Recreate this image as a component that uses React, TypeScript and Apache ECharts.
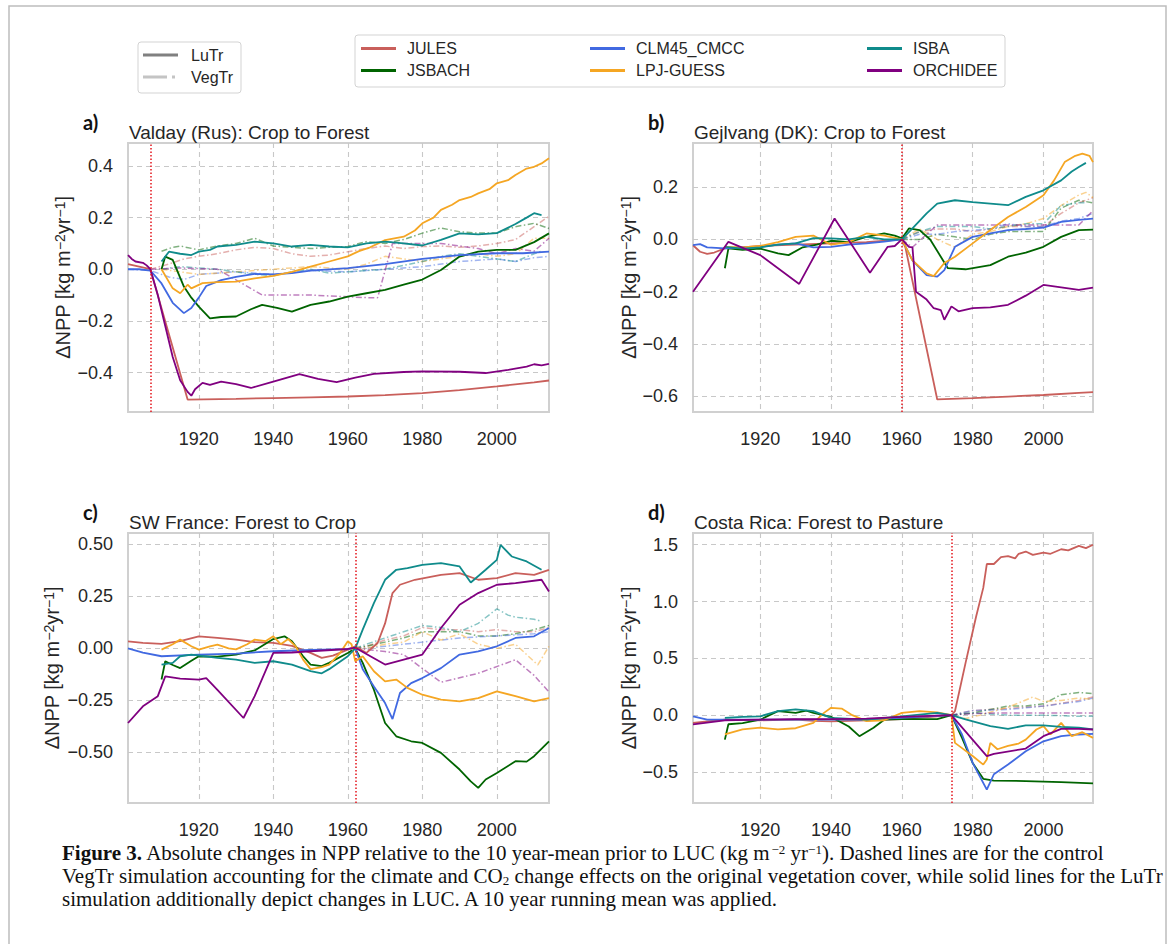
import React, { useEffect, useRef } from 'react';
import * as echarts from 'echarts';

// ---------- categories / styles ----------
const MODELS = ['JULES', 'JSBACH', 'CLM45_CMCC', 'LPJ-GUESS', 'ISBA', 'ORCHIDEE'];
const COLORS = ['#c95f5b', '#006400', '#4169e1', '#f5a623', '#0f8b8b', '#800080'];
const PANEL_LETTERS = ['a)', 'b)', 'c)', 'd)'];
const PANEL_TITLES = [
  'Valday (Rus): Crop to Forest',
  'Gejlvang (DK): Crop to Forest',
  'SW France: Forest to Crop',
  'Costa Rica: Forest to Pasture',
];
const LUC_YEARS = [1907, 1960, 1962, 1974];
const X_TICKS = [1920, 1940, 1960, 1980, 2000];
const Y_TICKS_A = [-0.4, -0.2, 0, 0.2, 0.4];
const Y_TICKS_B = [-0.6, -0.4, -0.2, 0, 0.2];
const Y_TICKS_C = [-0.5, -0.25, 0, 0.25, 0.5];
const Y_TICKS_D = [-0.5, 0, 0.5, 1.0, 1.5];
const Y_LIMITS_A = [-0.553, 0.489];
const Y_LIMITS_B = [-0.66, 0.369];
const Y_LIMITS_C = [-0.744, 0.555];
const Y_LIMITS_D = [-0.773, 1.603];

// ---------- panel a: Valday ----------
const aLuJULES = [[1901,0.02],[1904,0.01],[1907,0.0],[1917,-0.505],[1930,-0.502],[1940,-0.499],[1950,-0.496],[1960,-0.493],[1970,-0.488],[1980,-0.48],[1990,-0.468],[2000,-0.454],[2010,-0.438],[2014,-0.431]];
const aLuJSBACH = [[1910,0.0],[1911,0.049],[1913,0.036],[1916,-0.067],[1918,-0.11],[1920,-0.145],[1923,-0.19],[1926,-0.185],[1930,-0.183],[1934,-0.155],[1937,-0.138],[1941,-0.15],[1945,-0.164],[1950,-0.138],[1955,-0.125],[1960,-0.106],[1965,-0.093],[1970,-0.08],[1975,-0.06],[1980,-0.04],[1985,-0.003],[1990,0.049],[1995,0.068],[2000,0.075],[2005,0.075],[2010,0.105],[2014,0.139]];
const aLuCLM45 = [[1901,0.0],[1904,0.0],[1907,-0.005],[1910,-0.055],[1913,-0.13],[1916,-0.17],[1918,-0.15],[1920,-0.11],[1922,-0.065],[1926,-0.042],[1930,-0.03],[1935,-0.018],[1940,-0.02],[1945,-0.015],[1950,-0.005],[1960,0.004],[1970,0.02],[1980,0.04],[1990,0.055],[2000,0.062],[2007,0.062],[2014,0.068]];
const aLuLPJ = [[1910,0.0],[1913,-0.074],[1915,-0.093],[1917,-0.06],[1918,-0.074],[1921,-0.054],[1925,-0.05],[1930,-0.048],[1935,-0.035],[1940,-0.026],[1945,-0.01],[1950,0.01],[1955,0.03],[1960,0.05],[1963,0.07],[1966,0.085],[1970,0.113],[1975,0.126],[1978,0.15],[1980,0.178],[1983,0.2],[1985,0.23],[1988,0.25],[1990,0.268],[1993,0.28],[1995,0.294],[1998,0.31],[2000,0.333],[2003,0.345],[2005,0.365],[2008,0.39],[2010,0.397],[2012,0.41],[2014,0.43]];
const aLuISBA = [[1910,0.03],[1912,0.068],[1915,0.06],[1918,0.055],[1920,0.068],[1923,0.075],[1925,0.088],[1930,0.094],[1935,0.107],[1940,0.1],[1945,0.088],[1950,0.094],[1955,0.088],[1960,0.085],[1965,0.1],[1970,0.107],[1975,0.1],[1980,0.092],[1985,0.114],[1990,0.139],[1995,0.135],[2000,0.14],[2005,0.175],[2008,0.2],[2010,0.217],[2012,0.21]];
const aLuORCHIDEE = [[1901,0.055],[1902,0.04],[1903,0.03],[1905,0.025],[1906,0.015],[1907,0.0],[1909,-0.1],[1911,-0.22],[1913,-0.34],[1915,-0.43],[1917,-0.475],[1918,-0.49],[1919,-0.465],[1921,-0.44],[1923,-0.448],[1926,-0.435],[1930,-0.445],[1934,-0.46],[1940,-0.435],[1947,-0.406],[1952,-0.425],[1957,-0.437],[1962,-0.42],[1967,-0.405],[1975,-0.398],[1980,-0.396],[1990,-0.397],[1997,-0.402],[2003,-0.39],[2008,-0.377],[2010,-0.368],[2012,-0.372],[2014,-0.367]];
const aVegJULES = [[1907,0.0],[1912,0.02],[1916,0.04],[1920,0.05],[1925,0.06],[1930,0.075],[1935,0.085],[1940,0.08],[1945,0.06],[1950,0.05],[1955,0.055],[1960,0.068],[1965,0.08],[1970,0.09],[1975,0.08],[1980,0.088],[1985,0.09],[1990,0.085],[1995,0.09],[2000,0.1],[2005,0.115],[2010,0.165],[2014,0.205]];
const aVegJSBACH = [[1910,0.07],[1913,0.085],[1915,0.09],[1920,0.075],[1925,0.09],[1930,0.1],[1935,0.12],[1940,0.09],[1945,0.085],[1950,0.08],[1955,0.085],[1960,0.088],[1965,0.107],[1970,0.1],[1975,0.115],[1980,0.14],[1985,0.16],[1990,0.145],[1995,0.14],[2000,0.14],[2005,0.165],[2010,0.178],[2014,0.158]];
const aVegCLM45 = [[1901,0.0],[1907,-0.005],[1912,-0.03],[1916,-0.04],[1920,-0.02],[1930,-0.01],[1940,-0.02],[1950,-0.005],[1960,-0.01],[1970,0.0],[1980,0.01],[1990,0.03],[2000,0.04],[2005,0.03],[2010,0.045],[2014,0.05]];
const aVegLPJ = [[1910,0.0],[1915,-0.01],[1920,-0.02],[1930,-0.01],[1940,0.0],[1950,0.01],[1960,0.0],[1965,0.02],[1970,0.05],[1975,0.04],[1980,0.03],[1985,0.04],[1990,0.05],[1995,0.06],[2000,0.05],[2005,0.06],[2010,0.12],[2014,0.12]];
const aVegISBA = [[1910,0.0],[1915,0.01],[1920,0.005],[1925,0.0],[1930,-0.01],[1935,-0.02],[1940,-0.025],[1945,-0.01],[1950,0.0],[1955,-0.015],[1960,-0.01],[1970,0.0],[1980,0.03],[1985,0.05],[1990,0.06],[1995,0.05],[2000,0.04],[2005,0.03],[2010,0.06],[2012,0.07]];
const aVegORCHIDEE = [[1907,0.0],[1915,0.005],[1925,0.0],[1937,-0.1],[1950,-0.1],[1965,-0.11],[1968,-0.11],[1972,0.1],[1985,0.1],[1990,0.09],[1995,0.08],[2000,0.06],[2005,0.08],[2010,0.07],[2014,0.12]];

// ---------- panel b: Gejlvang ----------
const bLuJULES = [[1901,-0.022],[1903,-0.047],[1905,-0.055],[1907,-0.05],[1910,-0.034],[1915,-0.03],[1920,-0.025],[1930,-0.02],[1940,-0.015],[1950,-0.01],[1960,0.0],[1961,-0.03],[1970,-0.612],[1980,-0.607],[1990,-0.601],[2000,-0.595],[2010,-0.587],[2014,-0.584]];
const bLuJSBACH = [[1910,-0.11],[1911,-0.034],[1915,-0.04],[1920,-0.035],[1925,-0.053],[1928,-0.06],[1932,-0.03],[1936,-0.02],[1940,-0.005],[1945,-0.01],[1950,0.01],[1955,0.023],[1958,0.015],[1960,0.004],[1962,0.042],[1965,0.036],[1968,0.0],[1971,-0.066],[1973,-0.11],[1978,-0.114],[1985,-0.098],[1990,-0.066],[1995,-0.05],[2000,-0.028],[2005,0.01],[2010,0.036],[2014,0.038]];
const bLuCLM45 = [[1901,-0.022],[1903,-0.018],[1905,-0.03],[1910,-0.034],[1915,-0.03],[1920,-0.028],[1925,-0.02],[1930,-0.015],[1935,-0.03],[1940,-0.028],[1945,-0.02],[1950,-0.015],[1955,-0.008],[1960,0.0],[1963,-0.08],[1967,-0.136],[1970,-0.142],[1972,-0.117],[1975,-0.028],[1980,0.01],[1985,0.023],[1990,0.036],[1995,0.04],[2000,0.045],[2005,0.067],[2010,0.075],[2014,0.08]];
const bLuLPJ = [[1910,-0.028],[1915,-0.03],[1920,-0.025],[1925,-0.01],[1930,0.01],[1935,0.015],[1940,-0.02],[1945,-0.01],[1950,0.023],[1955,0.015],[1960,0.0],[1963,-0.08],[1967,-0.13],[1969,-0.14],[1972,-0.09],[1975,-0.066],[1980,-0.015],[1985,0.036],[1990,0.086],[1995,0.124],[2000,0.169],[2003,0.226],[2006,0.296],[2009,0.32],[2011,0.328],[2013,0.32],[2014,0.296]];
const bLuISBA = [[1910,-0.028],[1915,-0.035],[1920,-0.03],[1925,-0.02],[1930,-0.015],[1935,0.005],[1940,0.004],[1945,0.0],[1950,0.01],[1955,0.0],[1960,0.0],[1963,0.042],[1967,0.1],[1970,0.137],[1975,0.15],[1980,0.143],[1985,0.137],[1990,0.131],[1995,0.163],[2000,0.188],[2005,0.226],[2008,0.26],[2010,0.277],[2012,0.293]];
const bLuORCHIDEE = [[1901,-0.2],[1911,-0.009],[1920,-0.06],[1931,-0.17],[1941,0.08],[1951,-0.127],[1956,-0.028],[1958,-0.025],[1960,0.0],[1962,-0.028],[1963,-0.03],[1964,-0.2],[1967,-0.23],[1969,-0.263],[1971,-0.27],[1972,-0.307],[1974,-0.256],[1976,-0.275],[1980,-0.263],[1985,-0.26],[1990,-0.25],[1995,-0.215],[2000,-0.174],[2005,-0.183],[2010,-0.193],[2014,-0.184]];
const bVegJULES = [[1960,0.0],[1965,0.03],[1970,0.04],[1975,0.04],[1980,0.03],[1985,0.04],[1990,0.05],[1995,0.05],[2000,0.05],[2005,0.1],[2010,0.14],[2014,0.16]];
const bVegJSBACH = [[1960,0.0],[1965,0.0],[1970,0.02],[1975,0.01],[1980,0.0],[1985,0.02],[1990,0.03],[1995,0.03],[2000,0.03],[2005,0.12],[2010,0.15],[2014,0.14]];
const bVegCLM45 = [[1960,0.0],[1965,0.02],[1970,0.02],[1975,0.03],[1980,0.035],[1985,0.04],[1990,0.06],[1995,0.05],[2000,0.05],[2005,0.07],[2010,0.08],[2014,0.1]];
const bVegLPJ = [[1960,0.0],[1965,0.04],[1970,0.0],[1975,-0.03],[1980,0.02],[1985,0.03],[1990,0.05],[1995,0.06],[2000,0.08],[2005,0.13],[2010,0.17],[2012,0.18],[2014,0.16]];
const bVegISBA = [[1960,0.0],[1965,0.03],[1970,0.05],[1975,0.05],[1980,0.05],[1985,0.04],[1990,0.05],[1995,0.06],[2000,0.06],[2005,0.13],[2010,0.14],[2012,0.14]];
const bVegORCHIDEE = [[1960,0.0],[1963,-0.03],[1967,0.02],[1970,0.055],[1980,0.055],[1990,0.055],[2000,0.055],[2010,0.055],[2014,0.11]];

// ---------- panel c: SW France ----------
const cLuJULES = [[1901,0.034],[1905,0.026],[1910,0.022],[1915,0.035],[1920,0.058],[1925,0.05],[1930,0.042],[1935,0.03],[1940,0.026],[1945,0.012],[1950,-0.022],[1953,-0.046],[1956,-0.035],[1960,-0.006],[1962,0.01],[1965,-0.022],[1968,0.026],[1970,0.12],[1972,0.266],[1974,0.306],[1978,0.33],[1985,0.354],[1990,0.362],[1995,0.33],[2000,0.338],[2005,0.362],[2010,0.354],[2014,0.378]];
const cLuJSBACH = [[1910,-0.15],[1911,-0.062],[1913,-0.08],[1915,-0.095],[1918,-0.06],[1920,-0.038],[1925,-0.04],[1930,-0.03],[1935,-0.01],[1940,0.045],[1943,0.058],[1945,0.034],[1948,-0.038],[1950,-0.078],[1953,-0.085],[1955,-0.07],[1960,-0.022],[1962,0.0],[1964,-0.07],[1967,-0.199],[1970,-0.359],[1973,-0.423],[1977,-0.447],[1980,-0.455],[1985,-0.503],[1990,-0.583],[1993,-0.64],[1995,-0.671],[1997,-0.631],[2000,-0.6],[2005,-0.543],[2008,-0.545],[2010,-0.519],[2014,-0.447]];
const cLuCLM45 = [[1901,0.0],[1905,-0.02],[1910,-0.038],[1920,-0.03],[1930,-0.025],[1940,-0.014],[1950,-0.008],[1960,-0.004],[1962,0.0],[1964,-0.1],[1967,-0.183],[1970,-0.263],[1972,-0.34],[1974,-0.215],[1977,-0.167],[1980,-0.143],[1985,-0.095],[1990,-0.03],[1995,-0.014],[2000,0.01],[2005,0.05],[2010,0.058],[2014,0.098]];
const cLuLPJ = [[1910,-0.006],[1913,0.02],[1915,0.042],[1918,0.01],[1920,-0.006],[1923,0.01],[1925,0.018],[1928,0.0],[1930,-0.005],[1933,0.02],[1935,0.042],[1938,0.035],[1940,0.058],[1942,0.02],[1944,0.045],[1946,0.01],[1948,-0.054],[1950,-0.1],[1953,-0.09],[1955,-0.078],[1958,-0.02],[1960,0.034],[1961,0.02],[1962,-0.062],[1964,-0.038],[1967,-0.11],[1970,-0.159],[1973,-0.15],[1976,-0.19],[1980,-0.223],[1985,-0.247],[1990,-0.255],[1995,-0.239],[2000,-0.207],[2005,-0.23],[2010,-0.255],[2014,-0.239]];
const cLuISBA = [[1910,-0.078],[1913,-0.07],[1915,-0.038],[1918,-0.03],[1925,-0.046],[1930,-0.054],[1935,-0.07],[1940,-0.062],[1945,-0.078],[1950,-0.11],[1953,-0.12],[1955,-0.1],[1960,-0.038],[1962,0.0],[1964,0.09],[1967,0.218],[1970,0.33],[1973,0.378],[1976,0.386],[1980,0.402],[1985,0.41],[1990,0.394],[1993,0.317],[1997,0.378],[2000,0.426],[2001,0.498],[2004,0.442],[2008,0.418],[2012,0.378]];
const cLuORCHIDEE = [[1901,-0.359],[1905,-0.279],[1909,-0.23],[1911,-0.135],[1915,-0.146],[1920,-0.15],[1922,-0.143],[1925,-0.2],[1932,-0.335],[1935,-0.23],[1940,-0.022],[1945,-0.02],[1950,-0.014],[1960,-0.003],[1962,0.003],[1970,-0.078],[1980,-0.03],[1985,0.098],[1990,0.21],[1995,0.266],[2000,0.306],[2005,0.314],[2012,0.33],[2014,0.274]];
const cVegJULES = [[1962,0.0],[1965,0.01],[1970,0.04],[1975,0.06],[1980,0.1],[1985,0.09],[1990,0.09],[1995,0.08],[2000,0.09],[2005,0.08],[2010,0.08],[2014,0.1]];
const cVegJSBACH = [[1962,0.0],[1965,0.01],[1970,0.03],[1975,0.05],[1980,0.08],[1985,0.08],[1990,0.08],[1995,0.06],[2000,0.06],[2005,0.07],[2010,0.09],[2014,0.11]];
const cVegCLM45 = [[1962,0.0],[1965,0.0],[1970,0.01],[1975,0.02],[1980,0.03],[1990,0.05],[2000,0.06],[2010,0.07],[2014,0.08]];
const cVegLPJ = [[1962,0.0],[1965,0.0],[1970,0.02],[1975,0.03],[1980,0.08],[1985,0.04],[1990,0.07],[1995,0.02],[2000,0.0],[2005,0.02],[2008,-0.03],[2011,-0.08],[2014,0.01]];
const cVegISBA = [[1962,0.0],[1965,0.02],[1970,0.05],[1975,0.08],[1980,0.11],[1985,0.1],[1990,0.08],[1995,0.12],[2000,0.19],[2003,0.16],[2005,0.15],[2010,0.14],[2012,0.13]];
const cVegORCHIDEE = [[1962,0.0],[1970,-0.015],[1975,-0.03],[1985,-0.163],[1995,-0.12],[2005,-0.055],[2010,-0.13],[2014,-0.21]];

// ---------- panel d: Costa Rica ----------
const dLuJULES = [[1901,-0.068],[1905,-0.055],[1910,-0.04],[1920,-0.045],[1930,-0.04],[1935,-0.05],[1940,-0.055],[1945,-0.05],[1950,-0.045],[1960,-0.035],[1970,-0.01],[1974,0.0],[1975,0.035],[1978,0.46],[1981,0.87],[1983,1.12],[1984,1.33],[1986,1.33],[1988,1.39],[1990,1.4],[1992,1.38],[1993,1.42],[1995,1.44],[1997,1.41],[2000,1.43],[2002,1.42],[2005,1.46],[2007,1.45],[2010,1.49],[2012,1.47],[2014,1.5]];
const dLuJSBACH = [[1910,-0.215],[1911,-0.08],[1915,-0.07],[1920,-0.04],[1925,0.035],[1930,0.02],[1933,0.04],[1935,0.02],[1940,-0.015],[1945,-0.1],[1948,-0.185],[1952,-0.11],[1955,-0.04],[1960,-0.035],[1970,-0.035],[1974,0.0],[1977,-0.2],[1980,-0.42],[1983,-0.56],[1986,-0.576],[1995,-0.58],[2005,-0.59],[2014,-0.6]];
const dLuCLM45 = [[1901,-0.01],[1905,-0.04],[1920,-0.04],[1950,-0.04],[1970,-0.005],[1974,0.0],[1977,-0.17],[1980,-0.42],[1984,-0.656],[1986,-0.52],[1990,-0.435],[1995,-0.318],[2000,-0.23],[2005,-0.185],[2010,-0.17],[2014,-0.165]];
const dLuLPJ = [[1910,-0.17],[1915,-0.126],[1920,-0.11],[1925,-0.125],[1930,-0.115],[1935,-0.068],[1938,0.02],[1940,0.065],[1943,0.058],[1946,0.0],[1950,-0.053],[1955,-0.045],[1960,0.02],[1965,0.035],[1970,0.025],[1974,0.0],[1975,-0.244],[1977,-0.29],[1980,-0.36],[1983,-0.435],[1984,-0.39],[1985,-0.244],[1987,-0.3],[1990,-0.27],[1993,-0.25],[1995,-0.215],[1998,-0.126],[2000,-0.097],[2002,-0.17],[2005,-0.068],[2008,-0.185],[2011,-0.15],[2014,-0.2]];
const dLuISBA = [[1910,-0.024],[1915,-0.015],[1920,-0.01],[1925,0.035],[1930,0.05],[1935,0.035],[1940,-0.024],[1950,-0.04],[1960,-0.01],[1970,0.02],[1974,0.0],[1978,-0.038],[1985,-0.097],[1990,-0.12],[1995,-0.09],[2000,-0.09],[2005,-0.103],[2010,-0.11],[2014,-0.126]];
const dLuORCHIDEE = [[1901,-0.082],[1910,-0.045],[1920,-0.04],[1930,-0.035],[1940,-0.035],[1950,-0.03],[1960,-0.015],[1974,0.0],[1984,-0.36],[1986,-0.34],[1995,-0.294],[2000,-0.185],[2005,-0.12],[2010,-0.12],[2014,-0.126]];
const dVegJULES = [[1974,0.0],[1980,0.04],[1990,0.06],[2000,0.08],[2010,0.13],[2014,0.16]];
const dVegJSBACH = [[1974,0.0],[1980,0.02],[1985,0.05],[1990,0.08],[1995,0.08],[2000,0.1],[2005,0.18],[2010,0.2],[2014,0.19]];
const dVegCLM45 = [[1974,0.0],[1980,0.04],[1990,0.05],[2000,0.08],[2010,0.12],[2014,0.15]];
const dVegLPJ = [[1974,0.0],[1978,-0.03],[1982,0.0],[1990,0.07],[1994,0.12],[1997,0.16],[2000,0.12],[2005,0.13],[2010,0.15],[2014,0.14]];
const dVegISBA = [[1974,0.0],[1980,0.02],[1990,0.0],[2000,0.0],[2010,-0.01],[2014,-0.01]];
const dVegORCHIDEE = [[1974,0.0],[1980,0.015],[1990,0.02],[2000,0.02],[2014,0.02]];

// ---------- tables built from the arrays ----------
const LU = [
  [aLuJULES, aLuJSBACH, aLuCLM45, aLuLPJ, aLuISBA, aLuORCHIDEE],
  [bLuJULES, bLuJSBACH, bLuCLM45, bLuLPJ, bLuISBA, bLuORCHIDEE],
  [cLuJULES, cLuJSBACH, cLuCLM45, cLuLPJ, cLuISBA, cLuORCHIDEE],
  [dLuJULES, dLuJSBACH, dLuCLM45, dLuLPJ, dLuISBA, dLuORCHIDEE],
];
const VEG = [
  [aVegJULES, aVegJSBACH, aVegCLM45, aVegLPJ, aVegISBA, aVegORCHIDEE],
  [bVegJULES, bVegJSBACH, bVegCLM45, bVegLPJ, bVegISBA, bVegORCHIDEE],
  [cVegJULES, cVegJSBACH, cVegCLM45, cVegLPJ, cVegISBA, cVegORCHIDEE],
  [dVegJULES, dVegJSBACH, dVegCLM45, dVegLPJ, dVegISBA, dVegORCHIDEE],
];
const Y_TICKS = [Y_TICKS_A, Y_TICKS_B, Y_TICKS_C, Y_TICKS_D];
const Y_LIMITS = [Y_LIMITS_A, Y_LIMITS_B, Y_LIMITS_C, Y_LIMITS_D];
const Y_DECIMALS = [1, 1, 2, 1];

const SANS = '"Liberation Sans", Arial, Helvetica, sans-serif';
const SERIF = '"Liberation Serif", "Times New Roman", serif';
const TXT = '#262626';

const GRIDS = [
  { left: 128, top: 143, width: 421, height: 269 },
  { left: 693, top: 143, width: 400, height: 269 },
  { left: 128, top: 533, width: 421, height: 270 },
  { left: 693, top: 533, width: 400, height: 270 },
];
const NAME_GAPS = [55, 53, 66, 53];

function fmt(v: number, d: number) {
  const s = Math.abs(v).toFixed(d);
  return (v < -1e-9 ? '\u2212' : '') + s;
}

function buildOption() {
  const grid = GRIDS.map((g) => ({
    ...g,
    show: true,
    backgroundColor: '#ffffff',
    borderColor: '#d0d0d0',
    borderWidth: 2,
    containLabel: false,
  }));
  const splitLine = { show: true, lineStyle: { color: '#c8c8c8', width: 1.1, type: [5, 4] } };
  const xAxis = GRIDS.map((_, i) => ({
    type: 'value',
    gridIndex: i,
    min: 1901,
    max: 2014,
    axisLine: { show: false },
    axisTick: { show: false, customValues: X_TICKS },
    axisLabel: {
      customValues: X_TICKS,
      fontSize: 18,
      color: TXT,
      margin: 18,
      fontFamily: SANS,
      formatter: (v: number) => String(Math.round(v)),
    },
    splitLine,
  }));
  const yAxis = GRIDS.map((_, i) => ({
    type: 'value',
    gridIndex: i,
    min: Y_LIMITS[i][0],
    max: Y_LIMITS[i][1],
    axisLine: { show: false },
    axisTick: { show: false, customValues: Y_TICKS[i] },
    axisLabel: {
      customValues: Y_TICKS[i],
      fontSize: 18,
      color: TXT,
      margin: 15,
      fontFamily: SANS,
      formatter: (v: number) => fmt(v, Y_DECIMALS[i]),
    },
    splitLine,
    name: 'ΔNPP [kg m{sup|\u22122}yr{sup|\u22121}]',
    nameLocation: 'middle',
    nameRotate: 90,
    nameGap: NAME_GAPS[i],
    nameTextStyle: {
      fontSize: 20,
      color: TXT,
      fontFamily: SANS,
      rich: { sup: { fontSize: 14, verticalAlign: 'top', color: TXT, fontFamily: SANS } },
    },
  }));

  const series: any[] = [];
  for (let p = 0; p < 4; p++) {
    for (let m = 0; m < MODELS.length; m++) {
      series.push({
        type: 'line',
        name: MODELS[m] + ' VegTr',
        xAxisIndex: p,
        yAxisIndex: p,
        data: VEG[p][m],
        symbol: 'none',
        showSymbol: false,
        z: 2,
        lineStyle: { color: COLORS[m], width: 1.5, opacity: 0.5, type: [6, 2.5, 1.5, 2.5] },
        emphasis: { disabled: true },
      });
    }
    for (let m = 0; m < MODELS.length; m++) {
      const s: any = {
        type: 'line',
        name: MODELS[m],
        xAxisIndex: p,
        yAxisIndex: p,
        data: LU[p][m],
        symbol: 'none',
        showSymbol: false,
        z: 3,
        lineStyle: { color: COLORS[m], width: 1.8 },
        emphasis: { disabled: true },
      };
      if (m === 0) {
        s.markLine = {
          silent: true,
          symbol: ['none', 'none'],
          label: { show: false },
          lineStyle: { color: '#e3151b', width: 1.5, type: [1.5, 2] },
          data: [{ xAxis: LUC_YEARS[p] }],
          z: 4,
        };
      }
      series.push(s);
    }
  }

  const graphic: any[] = [];
  // figure frame
  graphic.push({
    type: 'rect', silent: true,
    shape: { x: 9, y: 6, width: 1157, height: 1000 },
    style: { fill: 'none', stroke: '#bdbdbd', lineWidth: 1.5 },
  });
  // panel letters and titles
  GRIDS.forEach((g, i) => {
    graphic.push({
      type: 'text', silent: true, x: g.left - 45, y: g.top - 21,
      style: { text: PANEL_LETTERS[i], fontSize: 20, fontWeight: 'bold', fontFamily: 'Lato, "Open Sans", sans-serif', fill: '#111', align: 'left', verticalAlign: 'middle', textAlign: 'left', textVerticalAlign: 'middle' },
    });
    graphic.push({
      type: 'text', silent: true, x: g.left + 1, y: g.top - 11,
      style: { text: PANEL_TITLES[i], fontSize: 19, fontFamily: SANS, fill: TXT, align: 'left', verticalAlign: 'middle', textAlign: 'left', textVerticalAlign: 'middle' },
    });
  });
  // line-style legend
  graphic.push({ type: 'rect', silent: true, shape: { x: 138, y: 42, width: 103, height: 51, r: 3 }, style: { fill: '#fff', stroke: '#d3d3d3', lineWidth: 1 } });
  graphic.push({ type: 'line', silent: true, shape: { x1: 143, y1: 55, x2: 178, y2: 55 }, style: { stroke: '#808080', lineWidth: 3 } });
  graphic.push({ type: 'line', silent: true, shape: { x1: 143, y1: 77, x2: 178, y2: 77 }, style: { stroke: '#c4c4c4', lineWidth: 3, lineDash: [24, 5, 3, 50] } });
  const legTxt = (t: string, x: number, y: number) => ({
    type: 'text', silent: true, x, y,
    style: { text: t, fontSize: 16, fontFamily: SANS, fill: TXT, align: 'left', verticalAlign: 'middle', textAlign: 'left', textVerticalAlign: 'middle' },
  });
  graphic.push(legTxt('LuTr', 191, 55));
  graphic.push(legTxt('VegTr', 191, 77));
  // model legend
  graphic.push({ type: 'rect', silent: true, shape: { x: 355, y: 35, width: 650, height: 52, r: 3 }, style: { fill: '#fff', stroke: '#d3d3d3', lineWidth: 1 } });
  const colX = [361, 590, 867];
  const rowY = [48.5, 70.5];
  MODELS.forEach((name, m) => {
    const c = Math.floor(m / 2);
    const r = m % 2;
    graphic.push({ type: 'line', silent: true, shape: { x1: colX[c], y1: rowY[r], x2: colX[c] + 35, y2: rowY[r] }, style: { stroke: COLORS[m], lineWidth: 3 } });
    graphic.push(legTxt(name, colX[c] + 46, rowY[r]));
  });
  // caption
  const CAP = 21;
  const capStyle = (t: string) => ({
    text: t, fontSize: CAP, fontFamily: SERIF, fill: '#111', align: 'left', verticalAlign: 'middle', textAlign: 'left', textVerticalAlign: 'middle',
    rich: {
      b: { fontSize: CAP, fontFamily: SERIF, fontWeight: 'bold', fill: '#111' },
      sup: { fontSize: 13, fontFamily: SERIF, verticalAlign: 'top', fill: '#111' },
      sub: { fontSize: 13, fontFamily: SERIF, verticalAlign: 'bottom', fill: '#111' },
    },
  });
  graphic.push({ type: 'text', silent: true, x: 62, y: 853, style: capStyle('{b|Figure 3.} Absolute changes in NPP relative to the 10 year-mean prior to LUC (kg m{sup|\u22122} yr{sup|\u22121}). Dashed lines are for the control') });
  graphic.push({ type: 'text', silent: true, x: 62, y: 876, style: capStyle('VegTr simulation accounting for the climate and CO{sub|2} change effects on the original vegetation cover, while solid lines for the LuTr') });
  graphic.push({ type: 'text', silent: true, x: 62, y: 898.5, style: capStyle('simulation additionally depict changes in LUC. A 10 year running mean was applied.') });

  return {
    animation: false,
    backgroundColor: '#ffffff',
    textStyle: { fontFamily: SANS },
    grid,
    xAxis,
    yAxis,
    series,
    graphic,
  };
}

export default function App() {
  const ref = useRef<HTMLDivElement>(null);
  useEffect(() => {
    if (!ref.current) return;
    const chart = echarts.init(ref.current, undefined, { renderer: 'svg' });
    chart.setOption(buildOption() as any);
    return () => chart.dispose();
  }, []);
  return (
    <div
      ref={ref}
      style={{ position: 'absolute', left: 0, top: 0, width: 1171, height: 944, background: '#fff' }}
    />
  );
}
